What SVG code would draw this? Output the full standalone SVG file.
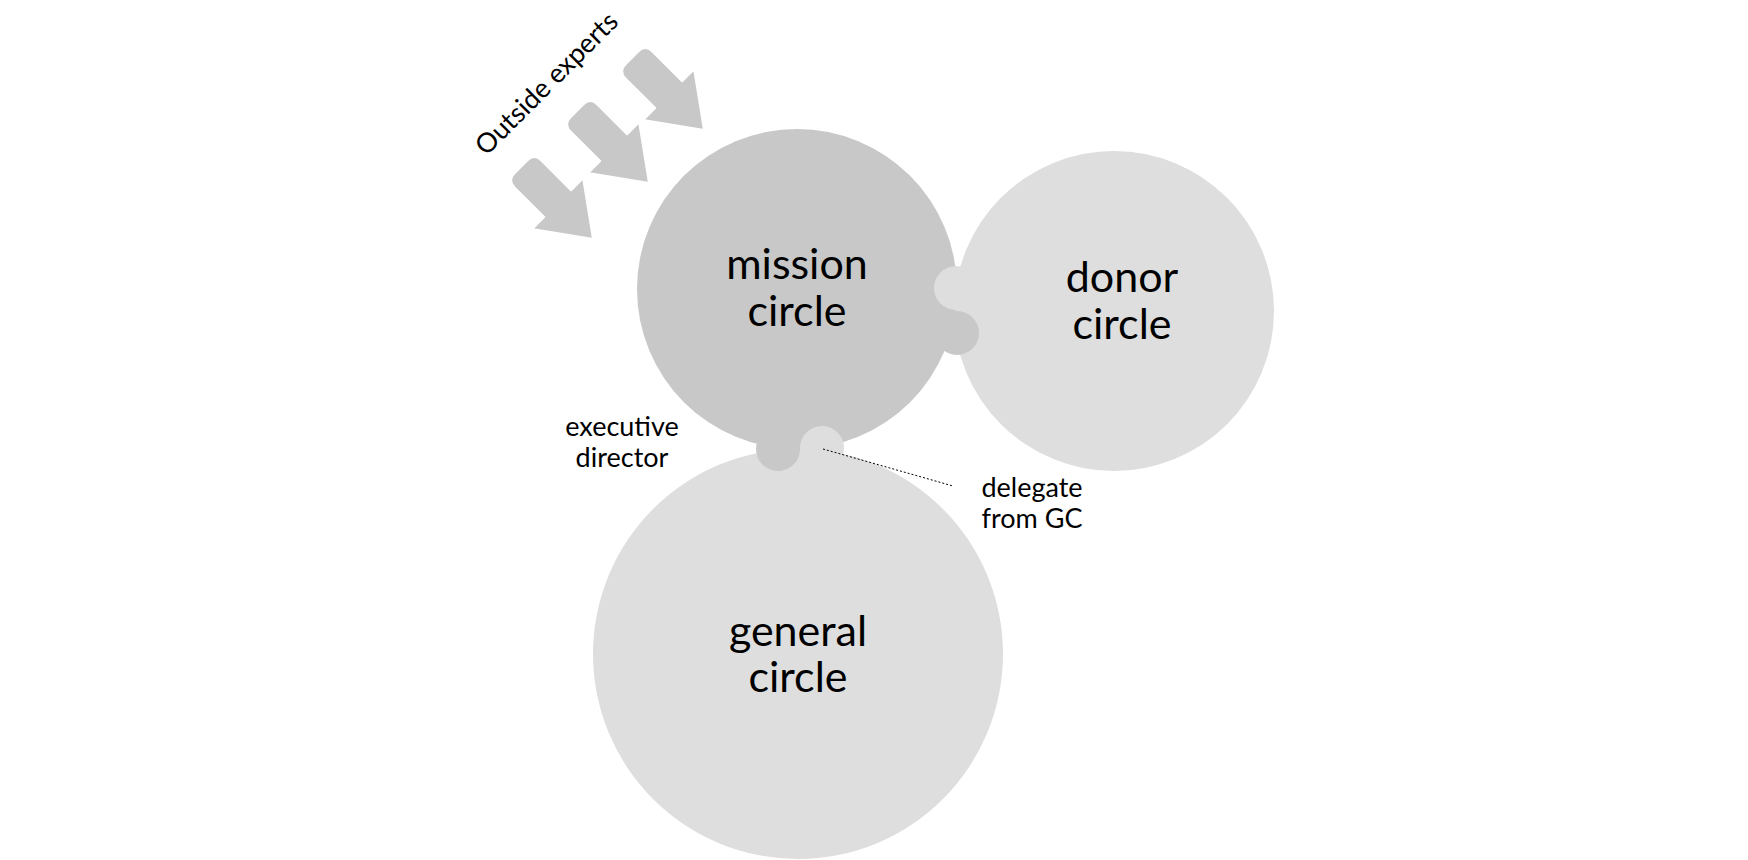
<svg xmlns="http://www.w3.org/2000/svg" width="1748" height="860" viewBox="0 0 1748 860">
<style>
text{font-family:Lato,"Noto Sans",sans-serif;fill:#000;text-anchor:middle}
.big{font-size:43px}
.sm{font-size:27px}
.dark{fill:#c8c8c8}
.light{fill:#dedede}
.arr{fill:#c8c8c8;stroke:#fff;stroke-width:2;stroke-linejoin:round}
</style>
<defs>
<path id="arrow" d="M0,0 L-50,-36 L-50,-19 L-92,-19 Q-102,-19 -102,-9 L-102,9 Q-102,19 -92,19 L-50,19 L-50,36 Z"/>
</defs>
<rect width="1748" height="860" fill="#fff"/>
<g id="outside-experts">
<use href="#arrow" class="arr" transform="translate(704,130) rotate(45)"/>
<use href="#arrow" class="arr" transform="translate(649,183) rotate(45)"/>
<use href="#arrow" class="arr" transform="translate(593,239) rotate(45)"/>
<text style="font-size:27px" transform="translate(553,90) rotate(-45)">Outside experts</text>
</g>
<g id="general">
<circle class="light" cx="798" cy="654" r="205"/>
<text class="big" x="798" y="646">general</text>
<text class="big" x="798" y="692">circle</text>
</g>
<g id="donor">
<circle class="light" cx="1114" cy="311" r="160"/>
<text class="big" x="1122" y="292">donor</text>
<text class="big" x="1122" y="339">circle</text>
</g>
<g id="mission">
<circle class="dark" cx="797" cy="289" r="160"/>
<text class="big" x="797" y="279">mission</text>
<text class="big" x="797" y="326">circle</text>
</g>
<g id="links">
<circle class="light" cx="956" cy="288" r="22"/>
<circle class="dark" cx="957" cy="333" r="22"/>
<circle class="dark" cx="778" cy="449" r="22"/>
<circle class="light" cx="822" cy="448" r="22"/>
</g>
<g id="connectors">
<line x1="823" y1="449" x2="953" y2="486" stroke="#000" stroke-width="1" stroke-dasharray="2,2"/>
</g>
<g id="labels">
<text class="sm" x="622" y="436">executive</text>
<text class="sm" x="622" y="467">director</text>
<text class="sm" x="1032" y="497">delegate</text>
<text class="sm" x="1032" y="528">from GC</text>
</g>
</svg>
